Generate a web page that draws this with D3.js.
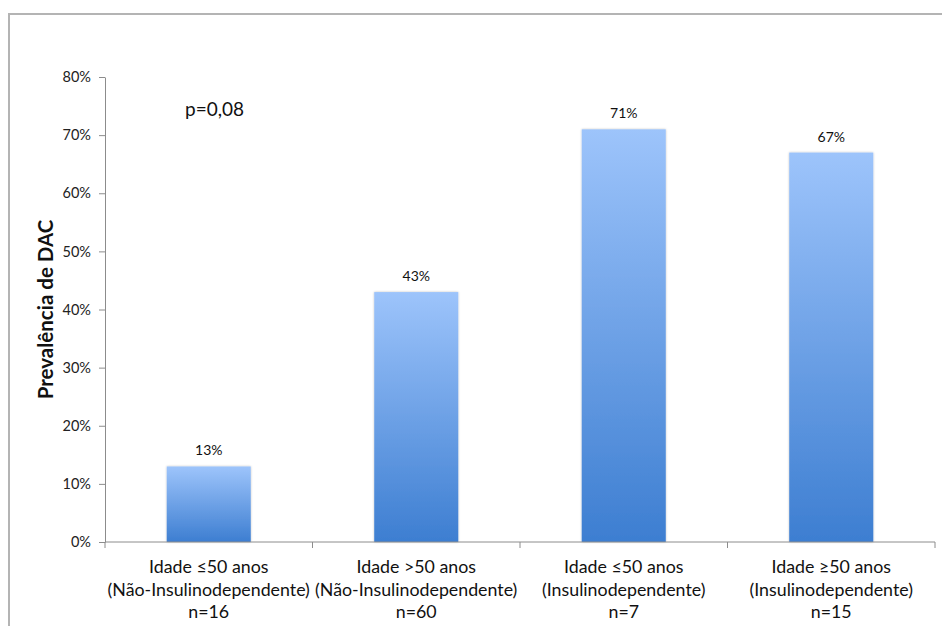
<!DOCTYPE html>
<html>
<head>
<meta charset="utf-8">
<script src="https://cdn.jsdelivr.net/npm/d3@7"></script>
<style>
  html, body { margin: 0; padding: 0; background: #fff; }
  svg { display: block; font-family: Lato, "Open Sans", sans-serif; }
</style>
</head>
<body>
<svg id="chart" width="942" height="626"></svg>
<script>
// Prevalência de DAC por grupo
const categories = [
  ["Idade \u226450 anos", "(Não-Insulinodependente)", "n=16"],
  ["Idade >50 anos", "(Não-Insulinodependente)", "n=60"],
  ["Idade \u226450 anos", "(Insulinodependente)", "n=7"],
  ["Idade \u226550 anos", "(Insulinodependente)", "n=15"]
];
const values = [0.13, 0.43, 0.71, 0.67];
const yTicks = [0, 0.1, 0.2, 0.3, 0.4, 0.5, 0.6, 0.7, 0.8];
const annotation = "p=0,08";
const yTitle = "Prevalência de DAC";

const svg = d3.select("#chart");
const margin = { left: 105, right: 7, top: 77, bottom: 84 };
const W = 942, H = 626;

// outer frame (top and left edges visible)
svg.append("path")
  .attr("d", `M9,626 V14 H942`)
  .attr("fill", "none")
  .attr("stroke", "#b4b4b4")
  .attr("stroke-width", 2);

const x = d3.scaleBand()
  .domain(d3.range(categories.length))
  .range([margin.left, W - margin.right])
  .paddingInner(0.595)
  .paddingOuter(0.2975);

const y = d3.scaleLinear()
  .domain([0, 0.8])
  .range([H - margin.bottom, margin.top]);

const defs = svg.append("defs");
const grad = defs.append("linearGradient")
  .attr("id", "barGrad")
  .attr("x1", 0).attr("y1", 0).attr("x2", 0).attr("y2", 1);
grad.append("stop").attr("offset", "0%").attr("stop-color", "#9dc4fb");
grad.append("stop").attr("offset", "100%").attr("stop-color", "#3d7ed1");

const shadow = defs.append("filter").attr("id", "shadow")
  .attr("x", "-10%").attr("y", "-10%").attr("width", "120%").attr("height", "120%");
shadow.append("feGaussianBlur").attr("in", "SourceAlpha").attr("stdDeviation", 1.2).attr("result", "b");
shadow.append("feComponentTransfer").attr("in", "b").attr("result", "s")
  .append("feFuncA").attr("type", "linear").attr("slope", 0.25);
const merge = shadow.append("feMerge");
merge.append("feMergeNode").attr("in", "s");
merge.append("feMergeNode").attr("in", "SourceGraphic");

// bars
svg.append("g").selectAll("rect")
  .data(values)
  .join("rect")
  .attr("x", (d, i) => x(i))
  .attr("y", d => y(d))
  .attr("width", x.bandwidth())
  .attr("height", d => y(0) - y(d))
  .attr("fill", "url(#barGrad)")
  .attr("filter", "url(#shadow)");

// value labels
svg.append("g").selectAll("text")
  .data(values)
  .join("text")
  .attr("x", (d, i) => x(i) + x.bandwidth() / 2)
  .attr("y", d => y(d) - 11)
  .attr("text-anchor", "middle")
  .attr("font-size", 14)
  .attr("fill", "#111")
  .text(d => Math.round(d * 100) + "%");

// y axis
const yAxis = svg.append("g")
  .attr("transform", `translate(${margin.left},0)`)
  .call(d3.axisLeft(y).tickValues(yTicks).tickFormat(d3.format(".0%")).tickSize(6).tickSizeOuter(0).tickPadding(8));
yAxis.select(".domain").attr("stroke", "#8c8c8c");
yAxis.selectAll(".tick line").attr("stroke", "#8c8c8c");
yAxis.selectAll(".tick text").attr("font-size", 14.5).attr("fill", "#222")
  .attr("font-family", "Lato, 'Open Sans', sans-serif");

// x axis with category boundary ticks
const xAxisG = svg.append("g").attr("transform", `translate(0,${y(0)})`);
xAxisG.append("line")
  .attr("x1", margin.left).attr("x2", W - margin.right)
  .attr("stroke", "#8c8c8c");
const step = (W - margin.right - margin.left) / categories.length;
xAxisG.selectAll("line.bt")
  .data(d3.range(categories.length + 1).map(i => margin.left + i * step))
  .join("line")
  .attr("class", "bt")
  .attr("x1", d => d).attr("x2", d => d)
  .attr("y1", 0).attr("y2", 6)
  .attr("stroke", "#8c8c8c");

// category labels
const catG = svg.append("g").selectAll("text")
  .data(categories)
  .join("text")
  .attr("x", (d, i) => x(i) + x.bandwidth() / 2)
  .attr("y", y(0) + 31)
  .attr("text-anchor", "middle")
  .attr("font-size", 17.8)
  .attr("fill", "#111");
catG.selectAll("tspan")
  .data(d => d)
  .join("tspan")
  .attr("x", function () { return d3.select(this.parentNode).attr("x"); })
  .attr("dy", (d, i) => i === 0 ? 0 : 22.5)
  .text(d => d);

// y title
svg.append("text")
  .attr("transform", `translate(53,${(y(0) + y(0.8)) / 2 + 0}) rotate(-90)`)
  .attr("text-anchor", "middle")
  .attr("font-size", 20.5)
  .attr("font-weight", "bold")
  .attr("fill", "#111")
  .text(yTitle);

// p-value annotation
svg.append("text")
  .attr("x", 185)
  .attr("y", 116)
  .attr("font-size", 19)
  .attr("fill", "#111")
  .text(annotation);
</script>
</body>
</html>
